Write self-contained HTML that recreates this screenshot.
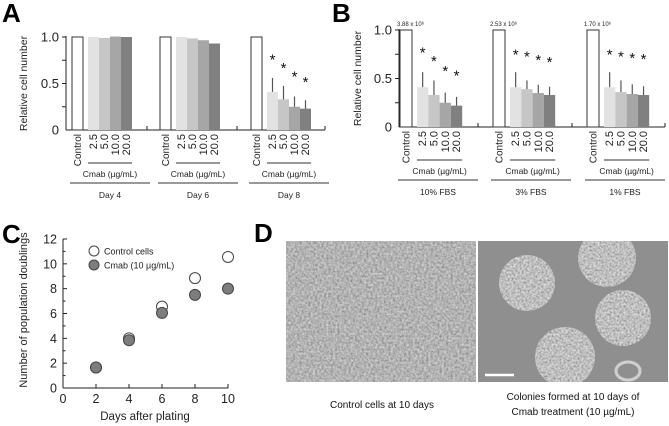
<!DOCTYPE html>
<html><head><meta charset="utf-8">
<style>
html,body{margin:0;padding:0;background:#fff;}
svg{display:block;font-family:"Liberation Sans",sans-serif;}
</style></head>
<body>
<svg id="fig" width="669" height="426" viewBox="0 0 669 426" xmlns="http://www.w3.org/2000/svg">
<defs>
<filter id="tex1" x="0" y="0" width="1" height="1">
<feTurbulence type="fractalNoise" baseFrequency="0.45" numOctaves="2" seed="3"/>
<feColorMatrix type="matrix" values="0.6 0 0 0 0.15  0.6 0 0 0 0.15  0.6 0 0 0 0.15  0 0 0 0 1"/>
</filter>
<filter id="tex2" x="0" y="0" width="1" height="1">
<feTurbulence type="fractalNoise" baseFrequency="0.5" numOctaves="2" seed="7"/>
<feColorMatrix type="matrix" values="0.8 0 0 0 0.12  0.8 0 0 0 0.12  0.8 0 0 0 0.12  0 0 0 0 1"/>
</filter>
<clipPath id="clipCol">
  <circle cx="527" cy="283" r="28"/>
  <circle cx="607" cy="258" r="29"/>
  <circle cx="623" cy="318" r="28"/>
  <circle cx="565" cy="357" r="30"/>
</clipPath>
<clipPath id="clipR"><rect x="478" y="241" width="190" height="141"/></clipPath>
</defs>
<g id="panelA"></g>
<g id="panelB"></g>
<g id="panelC"></g>
<g id="panelD">
 <text x="254" y="242" font-size="26" font-weight="bold">D</text>
 <rect x="286" y="241" width="190" height="141" filter="url(#tex1)"/>
 <rect x="478" y="241" width="190" height="141" fill="#8f8f8f"/>
 <g clip-path="url(#clipR)">
  <g clip-path="url(#clipCol)">
   <rect x="478" y="220" width="190" height="170" filter="url(#tex2)"/>
  </g>
  <ellipse cx="628" cy="371" rx="12" ry="9" fill="none" stroke="#d0d0d0" stroke-width="3"/>
 </g>
 <line x1="485" y1="375" x2="514" y2="375" stroke="#fff" stroke-width="2.5"/>
 <text x="382" y="408" font-size="10" text-anchor="middle" fill="#111">Control  cells at 10 days</text>
 <text x="573" y="400" font-size="10" text-anchor="middle" fill="#111">Colonies formed at 10 days of</text>
 <text x="573" y="415" font-size="10" text-anchor="middle" fill="#111">Cmab treatment (10 µg/mL)</text>
</g>
</svg>
<script>
// ---------- Panel A data ----------
const aGroups = ["Day 4", "Day 6", "Day 8"];
const aDoses = ["2.5", "5.0", "10.0", "20.0"];
const aDay4 = [1.0, 1.0, 0.99, 1.005, 1.0];
const aDay6 = [1.0, 1.0, 0.985, 0.965, 0.93];
const aDay8 = [1.0, 0.41, 0.33, 0.25, 0.23];
const aDay8Err = [0, 0.15, 0.145, 0.11, 0.09];
const aDay8Star = [false, true, true, true, true];
// ---------- Panel B data ----------
const bGroups = ["10% FBS", "3% FBS", "1% FBS"];
const bTopLabels = ["3.88 x 10⁶", "2.53 x 10⁶", "1.70 x 10⁶"];
const b10 = [1.0, 0.41, 0.33, 0.25, 0.22];
const b10Err = [0, 0.155, 0.15, 0.105, 0.09];
const b3 = [1.0, 0.41, 0.39, 0.35, 0.33];
const b3Err = [0, 0.155, 0.09, 0.085, 0.085];
const b1 = [1.0, 0.41, 0.36, 0.34, 0.33];
const b1Err = [0, 0.155, 0.12, 0.1, 0.09];
const yTicksAB = [0, 0.5, 1.0];
const yTickLabelsAB = ["0", "0.5", "1.0"];
// ---------- Panel C data ----------
const cDays = [2, 4, 6, 8, 10];
const cControl = [1.65, 4.0, 6.55, 8.85, 10.55];
const cControlErr = [0.15, 0.2, 0.35, 0.35, 0.4];
const cCmab = [1.65, 3.85, 6.05, 7.5, 8.0];
const cCmabErr = [0.15, 0.2, 0.35, 0.3, 0.35];
const cXTicks = [0, 2, 4, 6, 8, 10];
const cYTicks = [0, 2, 4, 6, 8, 10, 12];

const NS = "http://www.w3.org/2000/svg";
function mk(parent, tag, attrs, text) {
  const e = document.createElementNS(NS, tag);
  for (const k in attrs) e.setAttribute(k, attrs[k]);
  if (text !== undefined) e.textContent = text;
  parent.appendChild(e);
  return e;
}
const fills = ["#ffffff", "#e2e2e2", "#c6c6c6", "#a6a6a6", "#808080"];

function barPanel(g, cfg) {
  const y = v => cfg.y0 - v * (cfg.y0 - cfg.y1);
  let t = mk(g, "text", {x: cfg.labelX, y: cfg.labelY, "font-size": 26, "font-weight": "bold"}, cfg.letter);
  
  
  let ax = mk(g, "line", {x1: cfg.ax, y1: y(1) - 1, x2: cfg.ax, y2: cfg.y0, stroke: "#222", "stroke-width": 1});
  
  
  let xl = mk(g, "line", {x1: cfg.ax, y1: cfg.y0, x2: cfg.axEnd, y2: cfg.y0, stroke: "#222", "stroke-width": 1});
  
  
  [0.25, 0.5, 0.75, 1.0].forEach(v => {
    let tk = mk(g, "line", {x1: cfg.ax - 4, y1: y(v), x2: cfg.ax, y2: y(v), stroke: "#222"});
    
    
  });
  yTicksAB.forEach((v, i) => {
    let tl = mk(g, "text", {x: cfg.ax - 7, y: y(v) + 4.5, "font-size": 13, "text-anchor": "end", fill: "#222"}, yTickLabelsAB[i]);
    
    
  });
  cfg.sepTicks.forEach(sx => {
    let s = mk(g, "line", {x1: sx, y1: cfg.y0 - 4, x2: sx, y2: cfg.y0, stroke: "#222"});
    
    
  });
  let yt = mk(g, "text", {x: 0, y: 0, "font-size": 10.5, "text-anchor": "middle", fill: "#222", transform: `translate(${cfg.titleX},${(y(1) + cfg.y0) / 2}) rotate(-90)`}, "Relative cell number");
  
  
  cfg.series.forEach((vals, gi) => {
    const gx = cfg.ctrlX[gi];
    const errs = cfg.errs[gi];
    vals.forEach((v, bi) => {
      const bx = bi === 0 ? gx : gx + cfg.off + (bi - 1) * cfg.bw;
      const w = bi === 0 ? cfg.cw : cfg.bw;
      let r = mk(g, "rect", {x: bx, y: y(v), width: w, height: cfg.y0 - y(v), fill: fills[bi], stroke: bi === 0 ? "#333" : "none", "stroke-width": 1});
      
      
      if (errs && errs[bi] > 0) {
        let e = mk(g, "line", {x1: bx + w / 2, y1: y(v + errs[bi]), x2: bx + w / 2, y2: y(v), stroke: "#555", "stroke-width": 1.2});
        
        
      }
      if (cfg.stars[gi] && cfg.stars[gi][bi]) {
        let st = mk(g, "text", {x: bx + w / 2, y: y(cfg.starVals[gi][bi - 1]) + 8, "font-size": 15, "text-anchor": "middle", fill: "#111"}, "*");
        
        
      }
      const lab = bi === 0 ? "Control" : aDoses[bi - 1];
      let lt = mk(g, "text", {x: 0, y: 0, "font-size": bi === 0 ? 10 : 11, "text-anchor": "end", fill: "#222", transform: `translate(${bx + w / 2 + 3.5},${cfg.y0 + 4}) rotate(-90)`}, lab);
      
      
    });
    const cs = gx + cfg.off, ce = gx + cfg.off + 4 * cfg.bw;
    let ul = mk(g, "line", {x1: cs, y1: cfg.y0 + 33, x2: ce, y2: cfg.y0 + 33, stroke: "#333"});
    
    
    let ct = mk(g, "text", {x: (cs + ce) / 2, y: cfg.y0 + 47, "font-size": 8.5, "text-anchor": "middle", fill: "#222"}, "Cmab (µg/mL)");
    
    
    let gl = mk(g, "line", {x1: gx - 2, y1: cfg.y0 + 53, x2: gx + cfg.groupW, y2: cfg.y0 + 53, stroke: "#333"});
    
    
    let gt = mk(g, "text", {x: gx - 2 + (cfg.groupW + 2) / 2, y: cfg.y0 + 68, "font-size": 8.5, "text-anchor": "middle", fill: "#222"}, cfg.groups[gi]);
    
    
    if (cfg.top) {
      let tt = mk(g, "text", {x: gx - 3, y: y(1) - 4, "font-size": 6, fill: "#222"}, cfg.top[gi]);
      
      
    }
  });
}

barPanel(document.getElementById("panelA"), {
  letter: "A", labelX: 2, labelY: 22, ax: 66, axEnd: 325, y0: 130, y1: 37, titleX: 27,
  sepTicks: [147, 237, 325], ctrlX: [72, 160, 251], cw: 11, off: 16, bw: 11, groupW: 78,
  series: [aDay4, aDay6, aDay8], errs: [null, null, aDay8Err],
  stars: [null, null, aDay8Star], starVals: [null, null, [0.79, 0.70, 0.61, 0.55]],
  groups: aGroups
});
barPanel(document.getElementById("panelB"), {
  letter: "B", labelX: 332, labelY: 22, ax: 399, axEnd: 665, y0: 127, y1: 30, titleX: 361,
  sepTicks: [478, 572, 665], ctrlX: [400, 493, 587], cw: 12, off: 17, bw: 11.3, groupW: 78,
  series: [b10, b3, b1], errs: [b10Err, b3Err, b1Err],
  stars: [aDay8Star, aDay8Star, aDay8Star],
  starVals: [[0.80, 0.71, 0.61, 0.56], [0.78, 0.76, 0.72, 0.70], [0.78, 0.76, 0.74, 0.73]],
  groups: bGroups, top: bTopLabels
});

// ---------- Panel C ----------
(function () {
  const g = document.getElementById("panelC");
  const X0 = 63, X1 = 228, Y0 = 388, Y1 = 239;
  const xs = d => X0 + d / 10 * (X1 - X0);
  const ys = v => Y0 - v / 12 * (Y0 - Y1);
  let t = mk(g, "text", {x: 2, y: 243, "font-size": 26, "font-weight": "bold"}, "C");
  
  
  let ya = mk(g, "line", {x1: X0, y1: ys(12), x2: X0, y2: Y0, stroke: "#222"});
  
  
  let xa = mk(g, "line", {x1: X0, y1: Y0, x2: X1, y2: Y0, stroke: "#222"});
  
  
  for (let v = 0; v <= 12; v++) {
    let tk = mk(g, "line", {x1: X0, y1: ys(v), x2: X0 + (v % 2 ? 2.5 : 4), y2: ys(v), stroke: "#222"});
    
    
  }
  cYTicks.forEach(v => {
    let tl = mk(g, "text", {x: X0 - 6, y: ys(v) + 4.5, "font-size": 12.5, "text-anchor": "end", fill: "#222"}, String(v));
    
    
  });
  cXTicks.forEach(v => {
    let tk = mk(g, "line", {x1: xs(v), y1: Y0 - 4, x2: xs(v), y2: Y0, stroke: "#222"});
    
    
    let tl = mk(g, "text", {x: xs(v), y: Y0 + 15, "font-size": 12.5, "text-anchor": "middle", fill: "#222"}, String(v));
    
    
  });
  let xt = mk(g, "text", {x: 145, y: 420, "font-size": 11.5, "text-anchor": "middle", fill: "#222"}, "Days after plating");
  
  
  let yt = mk(g, "text", {x: 0, y: 0, "font-size": 11, "text-anchor": "middle", fill: "#222", transform: "translate(27,310) rotate(-90)"}, "Number of population doublings");
  
  
  function series(vals, errs, fill, name) {
    cDays.forEach((d, i) => {
      let e = mk(g, "line", {x1: xs(d), y1: ys(vals[i] + errs[i]), x2: xs(d), y2: ys(vals[i] - errs[i]), stroke: "#555", "stroke-width": 1.2});
      
      
      let c = mk(g, "circle", {cx: xs(d), cy: ys(vals[i]), r: 5.5, fill: fill, stroke: "#444", "stroke-width": 1});
      
      
    });
  }
  series(cControl, cControlErr, "#fff", "control-point");
  series(cCmab, cCmabErr, "#7d7d7d", "cmab-point");
  let l1 = mk(g, "circle", {cx: 94, cy: 251, r: 5, fill: "#fff", stroke: "#444"});
  
  
  let lt1 = mk(g, "text", {x: 104, y: 254.5, "font-size": 9, fill: "#222"}, "Control cells");
  
  
  let l2 = mk(g, "circle", {cx: 94, cy: 265, r: 5, fill: "#7d7d7d", stroke: "#444"});
  
  
  let lt2 = mk(g, "text", {x: 104, y: 268.5, "font-size": 9, fill: "#222"}, "Cmab (10 µg/mL)");
  
  
})();
</script>
</body></html>
